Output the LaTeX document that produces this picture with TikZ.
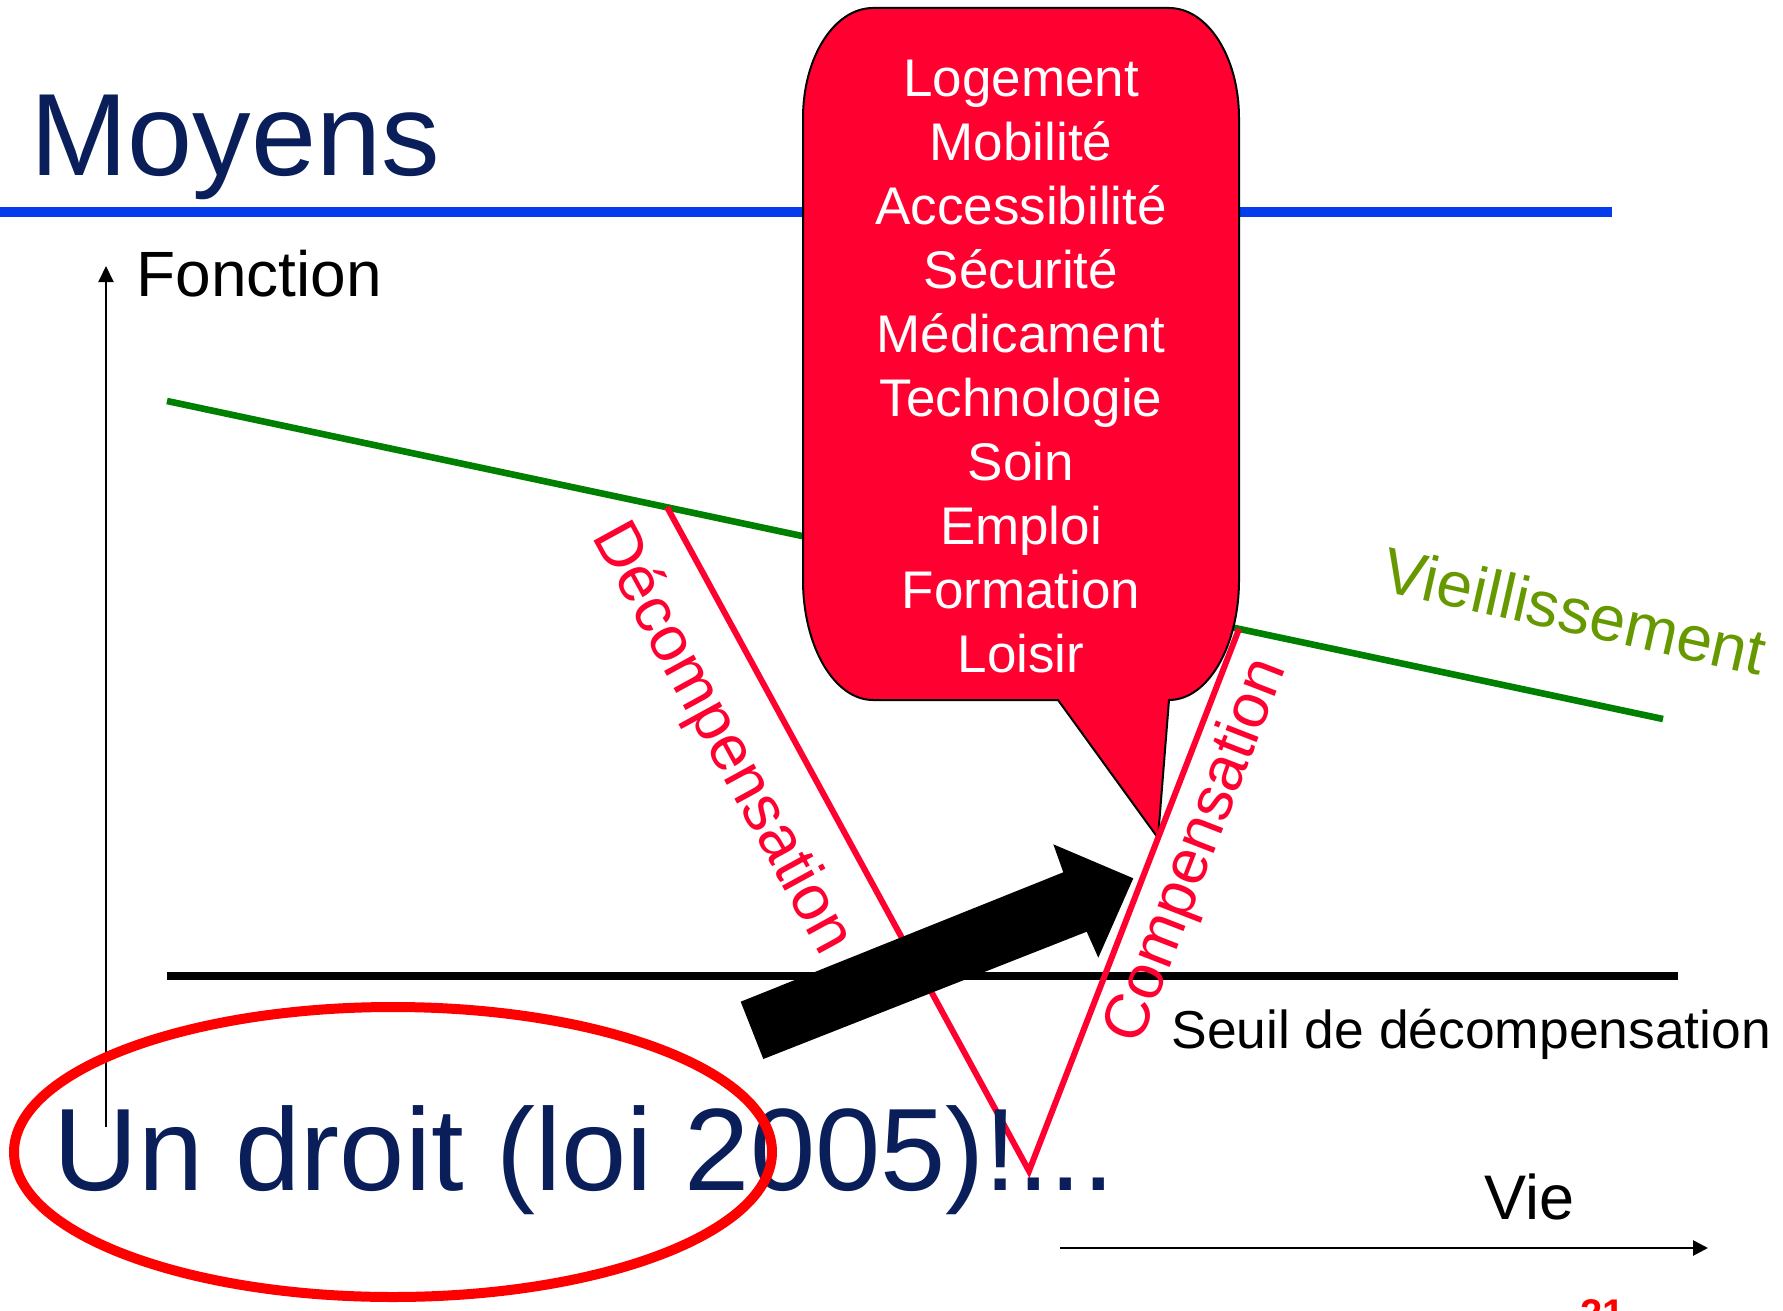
\documentclass[tikz,border=0pt]{standalone}
\usepackage{fontspec}
\setmainfont{Liberation Sans}
\usetikzlibrary{arrows.meta}
\definecolor{navy}{HTML}{0A1E5A}
\definecolor{ruleblue}{HTML}{053CEB}
\definecolor{curvegreen}{HTML}{008000}
\definecolor{olivegreen}{HTML}{669900}
\definecolor{crimson}{HTML}{FF0030}
\definecolor{purered}{HTML}{FF0000}
\begin{document}
\begin{tikzpicture}[x=0.5pt,y=-0.5pt,
  lbl/.style={inner sep=0pt, anchor=base west},
  axisline/.style={draw=black, line width=1pt},
  redline/.style={draw=crimson, line width=3pt, line join=miter},
  callout/.style={fill=crimson, draw=black, line width=1pt},
  bigarrow/.style={fill=black}]
\useasboundingbox (0,0) rectangle (1783,1311);
\fill[white] (0,0) rectangle (1783,1311);

% coordinates
\coordinate (blueL) at (0,212);
\coordinate (blueR) at (1612,212);
\coordinate (yaxB) at (106,1127);
\coordinate (yaxT) at (106,266);
\coordinate (xaxL) at (1060,1248);
\coordinate (xaxR) at (1708,1248);
\coordinate (grnL) at (167,401);
\coordinate (grnR) at (1663,719);
\coordinate (thrL) at (167,976);
\coordinate (thrR) at (1678,976);
\coordinate (vTopL) at (667,507);
\coordinate (vBot) at (1029,1171);
\coordinate (vTopR) at (1239,629);

% title and rule
\draw[ruleblue, line width=5pt] (blueL) -- (blueR);
\node[lbl, text=navy, font=\fontsize{58.5}{70}\selectfont] (title) at (30,176) {Moyens};

% vertical axis
\draw[axisline, -{Triangle[length=8pt,width=7.5pt]}] (yaxB) -- (yaxT);
\node[lbl, font=\fontsize{32}{38}\selectfont] (fonction) at (136,296) {Fonction};

% green ageing line
\draw[curvegreen, line width=3.3pt] (grnL) -- (grnR);

% threshold
\draw[black, line width=3.6pt] (thrL) -- (thrR);

% callout
\path[callout] (873,8) -- (1169,8)
  .. controls (1207.7,8) and (1239,57.2) .. (1239,118)
  -- (1239,580)
  .. controls (1239,646.3) and (1207.7,700) .. (1169,700)
  -- (1158,838) -- (1058,700) -- (873,700)
  .. controls (834.3,700) and (803,646.3) .. (803,580)
  -- (803,118)
  .. controls (803,57.2) and (834.3,8) .. (873,8) -- cycle;
\node[inner sep=0pt, anchor=base, align=center, text=white,
  font=\fontsize{26.5}{32}\selectfont] (items) at (1021,672)
  {Logement\\Mobilité\\Accessibilité\\Sécurité\\Médicament\\Technologie\\Soin\\Emploi\\Formation\\Loisir};

% red V
\draw[redline] (vTopL) -- (vBot) -- (vTopR);

% big black arrow
\fill[bigarrow] (740.7,1001.7) -- (1063.3,872.3) -- (1053.3,844.3) -- (1133.3,878.3)
  -- (1098.3,957.7) -- (1086.7,931.7) -- (763.3,1059) -- cycle;

% rotated labels
\node[lbl, text=crimson, rotate=-61.3, font=\fontsize{32}{38}\selectfont] (decomp) at (591,536) {Décompensation};
\node[lbl, text=crimson, rotate=68.8, font=\fontsize{31.5}{38}\selectfont] (comp) at (1139,1047) {Compensation};
\node[lbl, text=olivegreen, rotate=-12.7, font=\fontsize{32}{38}\selectfont] (vieil) at (1379,590) {Vieillissement};

% threshold label, horizontal axis
\node[lbl, font=\fontsize{26.7}{32}\selectfont] (seuil) at (1171,1048) {Seuil de décompensation};
\node[lbl, font=\fontsize{31.5}{38}\selectfont] (vie) at (1484,1219) {Vie};
\draw[line width=1.35pt, -{Triangle[length=7.5pt,width=7.5pt]}] (xaxL) -- (xaxR);

% bottom statement
\node[lbl, text=navy, font=\fontsize{58.6}{70}\selectfont] (droit) at (53,1190) {Un droit (loi 2005)!...};
\draw[purered, line width=5pt] (393,1152) ellipse [x radius=189.5pt, y radius=72.5pt];

% page number
\node[lbl, text=purered, font=\bfseries\fontsize{20}{24}\selectfont] (page) at (1580,1327) {21};
\end{tikzpicture}
\end{document}
